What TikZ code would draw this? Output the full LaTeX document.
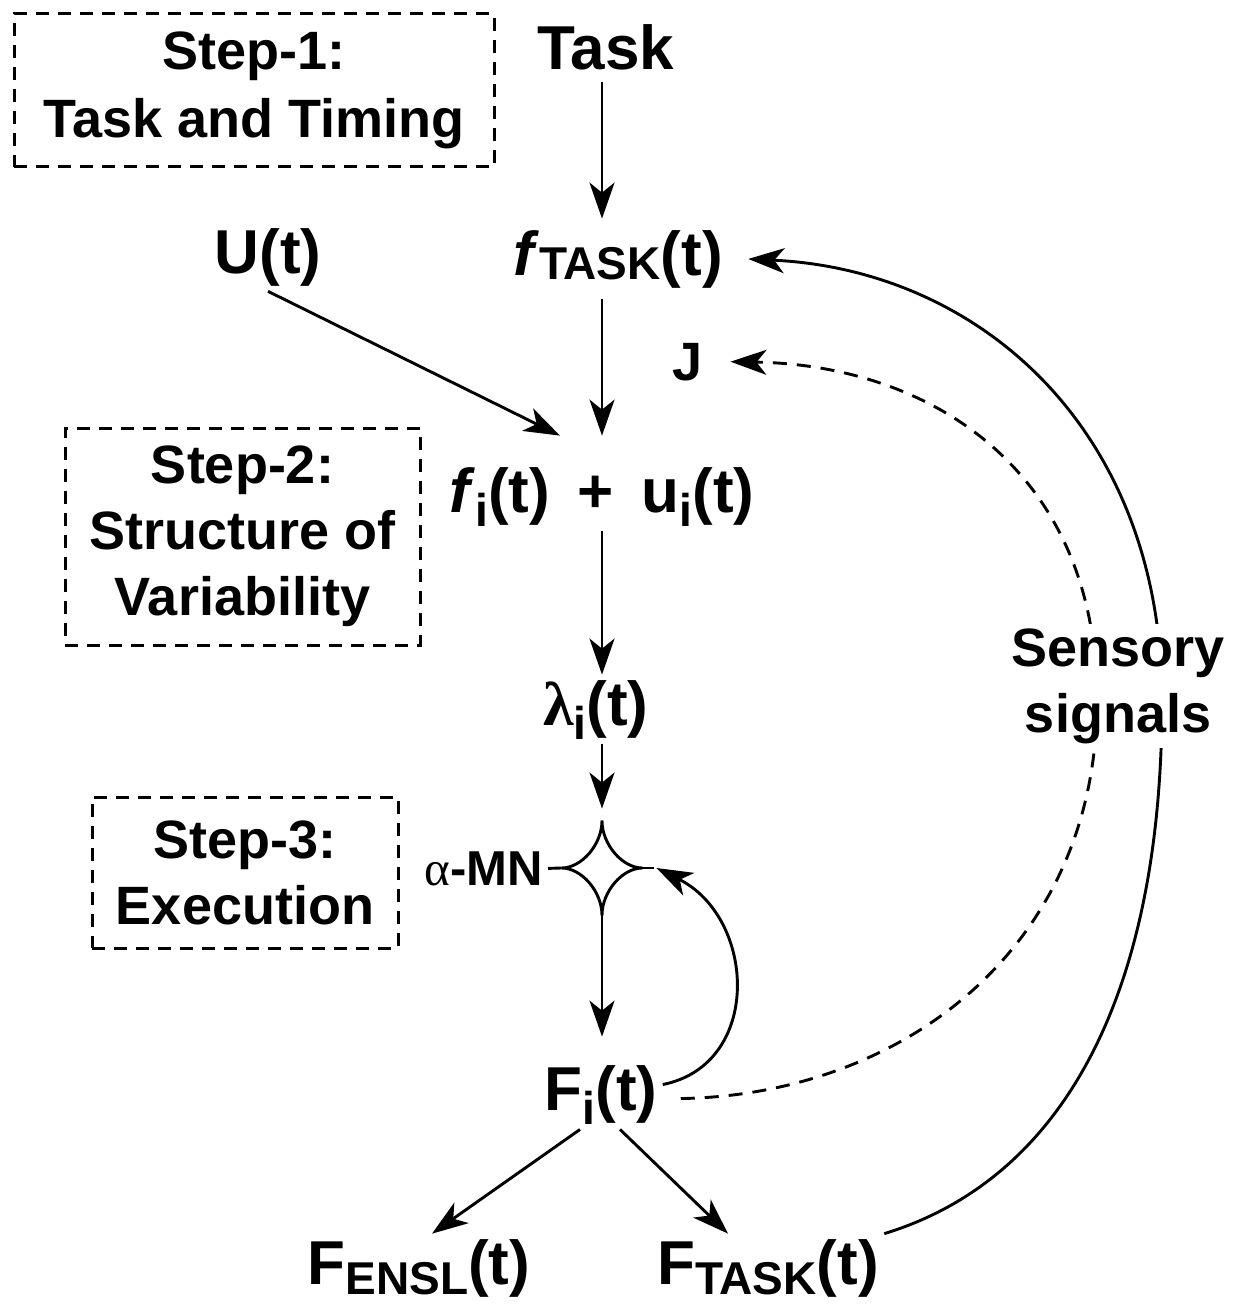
\documentclass[tikz,border=0pt]{standalone}
\usepackage{fontspec}
\setmainfont{Liberation Sans}
\newfontfamily\greekfont{Liberation Serif}
\usepackage{tikz}
\usetikzlibrary{arrows.meta}

% lowered subscript
\newcommand{\sbs}[2][5pt]{\raisebox{-#1}{\fontsize{23}{23}\selectfont #2}}

\begin{document}
\begin{tikzpicture}[x=0.5pt, y=-0.5pt, line width=1.45pt,
        >={Stealth[length=18pt, width=12.5pt, inset=5pt]},
        bigtxt/.style={font=\fontsize{31}{36}\selectfont\bfseries, inner sep=2pt, anchor=base},
        midtxt/.style={font=\fontsize{27}{33}\selectfont\bfseries, inner sep=2pt},
        stepbox/.style={midtxt, draw, line width=1.5pt, dash pattern=on 6.5pt off 4.5pt, align=center, inner sep=0pt},
        feedback/.style={->, dash pattern=on 7pt off 5pt}]
            \useasboundingbox (0,0) rectangle (1243,1305);
            \coordinate (col) at (602,0);

            % steps
            \node[stepbox, minimum width=240pt, minimum height=76.5pt] (s1) at (254,90.5) {Step-1:\\[1pt]Task and Timing};
            \node[stepbox, minimum width=177.5pt, minimum height=108.5pt] (s2) at (242.5,536.5) {Step-2:\\Structure of\\Variability};
            \node[stepbox, minimum width=153pt, minimum height=75.5pt] (s3) at (245,872.5) {Step-3:\\Execution};

            % main column
            \node[bigtxt] (task) at (606,70) {Task};
            \node[bigtxt] (ftask) at (618,275) {\textit{f}\sbs[2pt]{TASK}(t)};
            \node[bigtxt] (ut) at (268,273) {U(t)};
            \node[midtxt, anchor=base] (jcost) at (688,380) {J};
            \node[bigtxt] (fsum) at (602,512) {\textit{f}\sbs[7pt]{i}(t)\hspace{0.45em}+\hspace{0.45em}u\sbs[7pt]{i}(t)};
            \node[bigtxt] (lam) at (596,725) {{\greekfont λ}\sbs[7pt]{i}(t)};
            \node[minimum width=39pt, minimum height=46pt, inner sep=0pt] (mn) at (602,868) {};
            \node[midtxt, font=\fontsize{24.5}{28}\selectfont\bfseries, anchor=base east] (amn) at (548,885) {{\greekfont\mdseries α}-MN};
            \node[bigtxt] (fi) at (601,1110) {F\sbs[7pt]{i}(t)};
            \node[bigtxt] (fensl) at (419,1284) {F\sbs{ENSL}(t)};
            \node[bigtxt] (fout) at (768,1284) {F\sbs{TASK}(t)};

            % alpha motor neuron
            \draw (mn.north) .. controls ([yshift=-12pt]mn.north) and ([xshift=-10pt]mn.east) .. (mn.east)
                .. controls ([xshift=-10pt]mn.east) and ([yshift=12pt]mn.south) .. (mn.south)
                .. controls ([yshift=12pt]mn.south) and ([xshift=10pt]mn.west) .. (mn.west)
                .. controls ([xshift=10pt]mn.west) and ([yshift=-12pt]mn.north) .. cycle;
            \draw (amn.east) -- (mn.west);
            \draw (mn.east) -- ([xshift=6pt]mn.east);

            \draw[->, shorten <=3pt, shorten >=3pt] (task.south -| col) -- (ftask.north -| col);
            \draw[->, shorten <=3pt, shorten >=13pt] (ftask.south -| col) -- (fsum.north -| col);
            \draw[->] (ut.south) -- ([xshift=-21pt, yshift=13pt]fsum.north);
            \draw[->] (fsum.south -| col) -- (lam.north -| col);
            \draw[->, shorten >=6pt] (lam.south -| col) -- (mn.north);
            \draw[->, shorten >=11.5pt] (mn.south) -- (fi.north -| mn.south);
            \draw[->] ([xshift=-10.5pt]fi.south) -- ([xshift=6.5pt]fensl.north);
            \draw[->] ([xshift=9.5pt]fi.south) -- ([xshift=-20pt]fout.north);

            % loops back
            \draw[->] ([yshift=5pt]fi.east) .. controls +(100,-20) and +(100,50) .. ([xshift=7pt]mn.east);
            \draw[feedback] ([xshift=9pt, yshift=-2pt]fi.east) .. controls (900,1095) and (1097,950) .. (1097,700)
                .. controls (1097,470) and (930,365) .. ([xshift=11pt]jcost.east);
            \draw[->] (fout.north east) .. controls (1060,1180) and (1162,1000) .. (1162,700)
                .. controls (1162,430) and (980,270) .. ([xshift=10pt]ftask.east);

            \node[midtxt, fill=white, align=center] (sens) at (1118,686) {Sensory\\signals};
        \end{tikzpicture}
\end{document}
